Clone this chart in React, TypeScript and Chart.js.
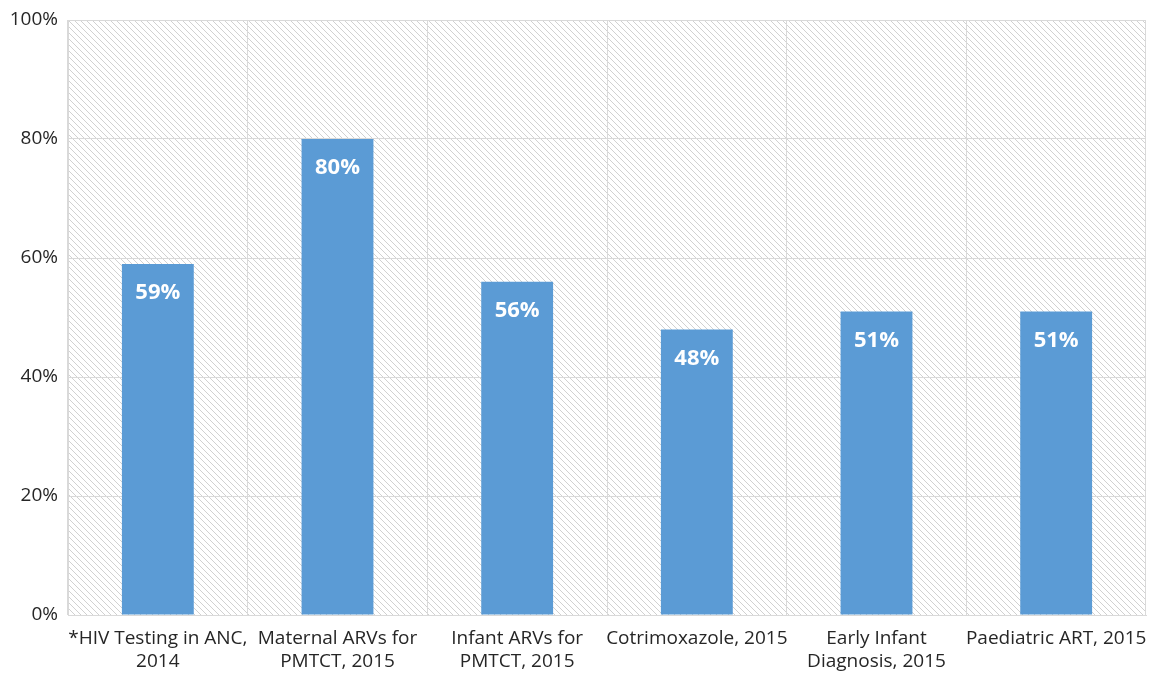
import React, { useEffect, useRef } from "react";
import { Chart, registerables } from "chart.js";
Chart.register(...registerables);

const categories: string[][] = [
  ["*HIV Testing in ANC,", "2014"],
  ["Maternal ARVs for", "PMTCT, 2015"],
  ["Infant ARVs for", "PMTCT, 2015"],
  ["Cotrimoxazole, 2015"],
  ["Early Infant", "Diagnosis, 2015"],
  ["Paediatric ART, 2015"],
];
const values: number[] = [59, 80, 56, 48, 51, 51];
const yTicks: number[] = [0, 20, 40, 60, 80, 100];

const FONT = "'Open Sans', 'Noto Sans', sans-serif";

function makePattern(): CanvasPattern | string {
  const c = document.createElement("canvas");
  c.width = 6;
  c.height = 6;
  const g = c.getContext("2d");
  if (!g) return "#fff";
  g.fillStyle = "#ffffff";
  g.fillRect(0, 0, 6, 6);
  g.strokeStyle = "rgba(0,0,0,0.18)";
  g.lineWidth = 1;
  g.beginPath();
  g.moveTo(-1, -1);
  g.lineTo(7, 7);
  g.moveTo(-1, 5);
  g.lineTo(1, 7);
  g.moveTo(5, -1);
  g.lineTo(7, 1);
  g.stroke();
  const p = g.createPattern(c, "repeat");
  return p || "#fff";
}

const hatchPlugin = {
  id: "hatch",
  beforeDraw(chart: any) {
    const { ctx, chartArea } = chart;
    ctx.save();
    ctx.fillStyle = makePattern();
    ctx.fillRect(chartArea.left, chartArea.top, chartArea.right - chartArea.left, chartArea.bottom - chartArea.top);
    ctx.restore();
  },
};

const labelPlugin = {
  id: "barLabels",
  afterDatasetsDraw(chart: any) {
    const { ctx } = chart;
    const meta = chart.getDatasetMeta(0);
    ctx.save();
    ctx.fillStyle = "#ffffff";
    ctx.font = `bold 22px ${FONT}`;
    ctx.textAlign = "center";
    ctx.textBaseline = "middle";
    meta.data.forEach((bar: any, i: number) => {
      ctx.fillText(values[i] + "%", bar.x, bar.y + 29);
    });
    ctx.restore();
  },
};

export default function App() {
  const ref = useRef<HTMLCanvasElement>(null);
  useEffect(() => {
    if (!ref.current) return;
    const chart = new Chart(ref.current, {
      type: "bar",
      data: {
        labels: categories,
        datasets: [
          {
            data: values,
            backgroundColor: "#5B9BD5",
            barPercentage: 0.4,
            categoryPercentage: 1,
          },
        ],
      },
      options: {
        animation: false,
        responsive: false,
        maintainAspectRatio: false,
        layout: { padding: { top: 20, right: 5, left: 0, bottom: 0 } },
        plugins: { legend: { display: false }, tooltip: { enabled: false } },
        scales: {
          x: {
            grid: { color: "#d9d9d9", drawTicks: false, offset: true },
            border: { color: "#d9d9d9" },
            ticks: {
              color: "#262626",
              font: { family: FONT, size: 19, lineHeight: 1.2 },
              padding: 12,
              maxRotation: 0,
              autoSkip: false,
            },
            afterFit(s: any) {
              s.height = 59;
              s.paddingLeft = 0;
              s.paddingRight = 0;
            },
          },
          y: {
            min: 0,
            max: 100,
            grid: { color: "#d9d9d9", drawTicks: false },
            border: { color: "#d9d9d9" },
            afterBuildTicks(s: any) {
              s.ticks = yTicks.map((v) => ({ value: v }));
            },
            ticks: {
              color: "#262626",
              font: { family: FONT, size: 19 },
              padding: 10,
              callback: (v: any) => v + "%",
            },
            afterFit(s: any) {
              s.width = 68;
              s.paddingTop = 0;
              s.paddingBottom = 0;
            },
          },
        },
      },
      plugins: [hatchPlugin, labelPlugin],
    });
    return () => chart.destroy();
  }, []);
  return (
    <div style={{ position: "absolute", left: 0, top: 0, width: 1151, height: 674, background: "#fff" }}>
      <canvas ref={ref} width={1151} height={674} style={{ width: 1151, height: 674 }} />
    </div>
  );
}
